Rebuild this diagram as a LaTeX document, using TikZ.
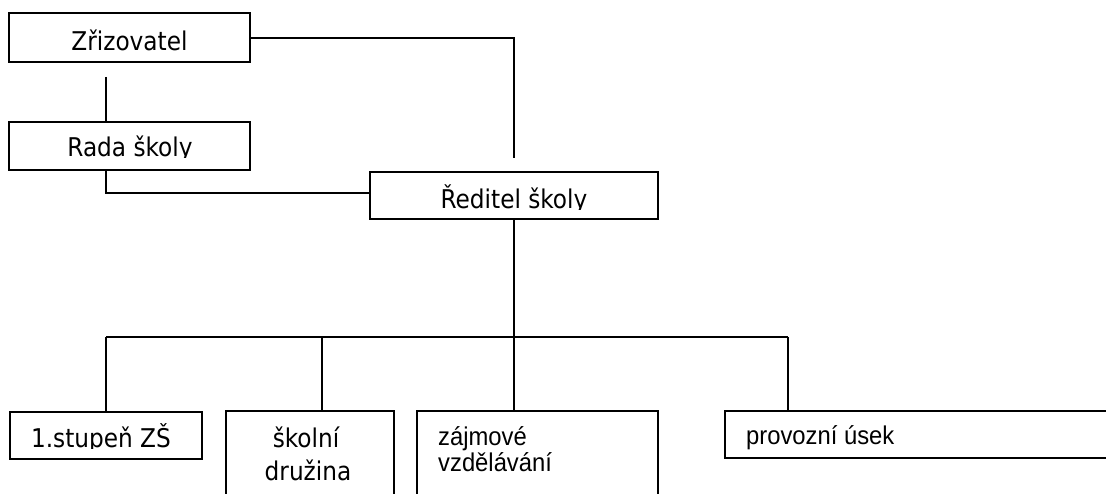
\documentclass[tikz,border=0pt]{standalone}
\usepackage{fontspec}
\newfontfamily\vfont{DejaVu Sans Condensed}
\newfontfamily\afont{Liberation Sans}
\newcommand{\ys}[1]{\scalebox{1}[1.08]{#1}}
\begin{document}
\begin{tikzpicture}[x=1pt,y=-1pt,
  box/.style={draw=black,line width=2.1pt,fill=none,inner sep=0pt},
  conn/.style={draw=black,line width=2.1pt},
  vtext/.style={inner sep=0pt,anchor=base,font=\vfont\fontsize{25.8}{30}\selectfont,text=black},
  atext/.style={inner sep=0pt,anchor=base west,font=\afont\fontsize{23.8}{28}\selectfont,text=black}]
\clip (0,0) rectangle (1106,494);
\fill[white] (0,0) rectangle (1106,494);
% boxes
\node[box,minimum width=241pt,minimum height=49pt] (zriz) at (129.5,37.5) {};
\node[box,minimum width=241pt,minimum height=48pt] (rada) at (129.5,146) {};
\node[box,minimum width=288pt,minimum height=47pt] (red) at (514,195.5) {};
\node[box,minimum width=192pt,minimum height=47pt] (st1) at (106,435.5) {};
\node[box,minimum width=168pt,minimum height=100pt] (sd) at (310,461) {};
\node[box,minimum width=241pt,minimum height=100pt] (zv) at (537.5,461) {};
\node[box,minimum width=400pt,minimum height=47pt] (pu) at (925,434.5) {};
% texts
\node[vtext] (tzriz) at (129.5,51) {Zřizovatel};
\begin{scope}
\clip (9,122) rectangle (250,158);
\node[vtext] (trada) at (130,157) {Rada školy};
\end{scope}
\begin{scope}
\clip (370,172) rectangle (658,209.5);
\node[vtext] (tred) at (514,209) {Ředitel školy};
\end{scope}
\begin{scope}
\clip (10,412) rectangle (202,448);
\node[vtext] (tst1) at (101,447) {1.stupeň ZŠ};
\end{scope}
\node[vtext] (tsd1) at (306,447) {školní};
\node[vtext] (tsd2) at (308,480) {družina};
\node[atext] (tzv1) at (438,445) {\ys{zájmové}};
\node[atext] (tzv2) at (438,471) {\ys{vzdělávání}};
\node[atext] (tpu) at (746,444) {\ys{provozní úsek}};
% connectors
\coordinate (z0) at (250,38);
\coordinate (c1) at (514,158);
\coordinate (c2) at (106,77);
\coordinate (r0) at (106,170);
\coordinate (rw) at (370,193);
\coordinate (bus) at (514,337);
\coordinate (busL) at (106,337);
\coordinate (busR) at (788,337);
\coordinate (busS) at (322,337);
\draw[conn] (z0) -| (c1);
\draw[conn] (c2) -- (c2 |- rada.north);
\draw[conn] (r0) |- (rw);
\draw[conn] (red.south) -- (bus);
\draw[conn] (busL) -- (busR);
\draw[conn] (busL) -- (st1.north);
\draw[conn] (busS) -- (busS |- sd.north);
\draw[conn] (bus) -- (bus |- zv.north);
\draw[conn] (busR) -- (busR |- pu.north);
\end{tikzpicture}
\end{document}
